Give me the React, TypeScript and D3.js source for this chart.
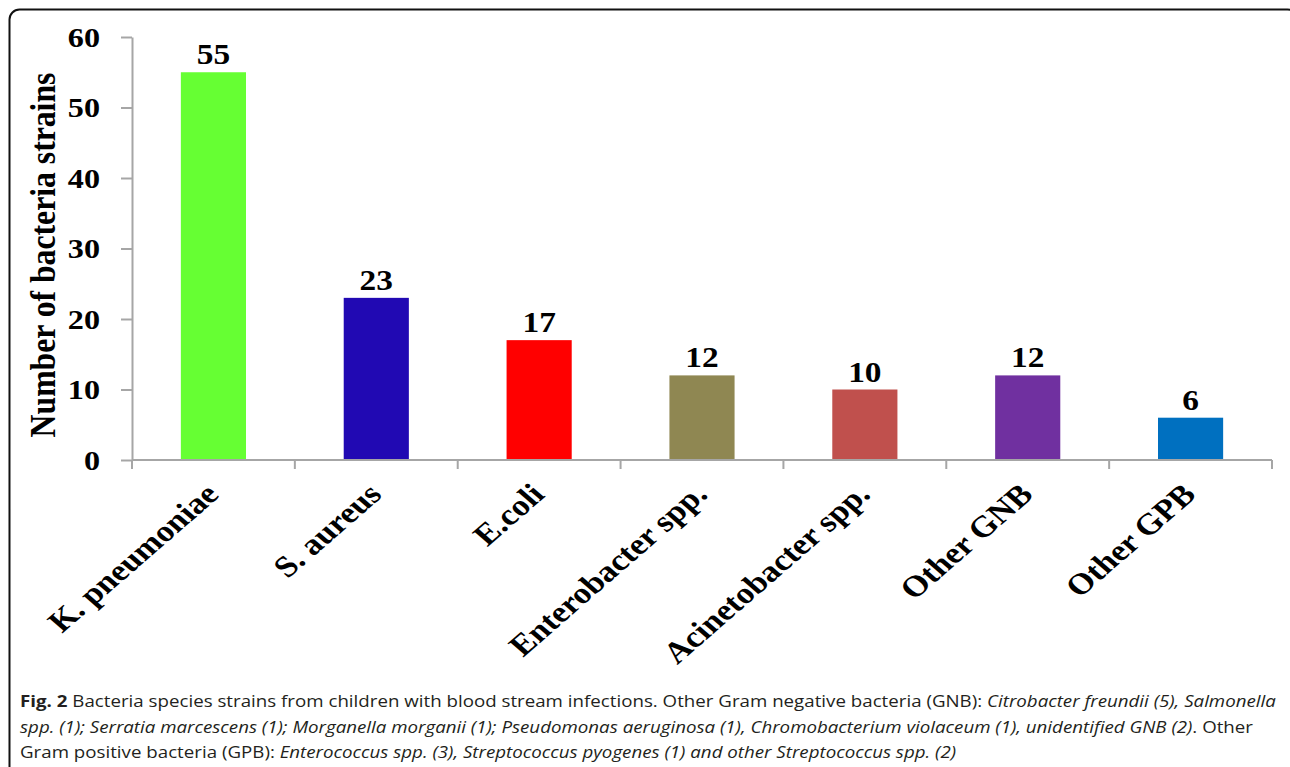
import React, { useEffect, useRef } from "react";
import * as d3 from "d3";

// data
const categories = ["K. pneumoniae", "S. aureus", "E.coli", "Enterobacter spp.", "Acinetobacter spp.", "Other GNB", "Other GPB"];
const counts = [55, 23, 17, 12, 10, 12, 6];
const barColors = ["#66ff33", "#2109b3", "#ff0000", "#8f8752", "#c0504d", "#7030a0", "#0070c0"];
const yTicks = [0, 10, 20, 30, 40, 50, 60];
const yTitle = "Number of bacteria strains";

// caption lines, as [text, style] runs
const captionLines = [
  [["Fig. 2", "bold"], [" Bacteria species strains from children with blood stream infections. Other Gram negative bacteria (GNB): ", "normal"], ["Citrobacter freundii (5), Salmonella", "italic"]],
  [["spp. (1); Serratia marcescens (1); Morganella morganii (1); Pseudomonas aeruginosa (1), Chromobacterium violaceum (1), unidentified GNB (2)", "italic"], [". Other", "normal"]],
  [["Gram positive bacteria (GPB): ", "normal"], ["Enterococcus spp. (3), Streptococcus pyogenes (1) and other Streptococcus spp. (2)", "italic"]],
];

const W = 1290;
const H = 767;
const stretch = 1.15; // the source figure is a bit wider than tall
const serif = "'Liberation Serif', 'Times New Roman', serif";

export default function App() {
  const ref = useRef<SVGSVGElement>(null);

  useEffect(() => {
    document.body.style.margin = "0";
    const svg = d3.select(ref.current);
    svg.selectAll("*").remove();

    // outer frame
    svg.append("rect")
      .attr("x", 9.5).attr("y", 9.5)
      .attr("width", 1288).attr("height", 800)
      .attr("rx", 10)
      .attr("fill", "white")
      .attr("stroke", "#111")
      .attr("stroke-width", 2);

    const x = d3.scaleBand().domain(categories).range([132, 1272]).padding(0);
    const y = d3.scaleLinear().domain([0, 60]).range([460, 37]);
    const barW = x.bandwidth() * 0.4;
    const axisColor = "#a6a6a6";

    // y axis
    const yAxis = svg.append("g").attr("transform", "translate(132,0)")
      .call(d3.axisLeft(y).tickValues(yTicks).tickSize(11).tickSizeOuter(0).tickFormat(() => ""));
    yAxis.selectAll("path, line").attr("stroke", axisColor).attr("stroke-width", 2);

    svg.selectAll(".ytick")
      .data(yTicks)
      .join("text")
      .attr("class", "ytick")
      .attr("transform", d => `translate(100,${y(d)}) scale(${stretch},1)`)
      .attr("dy", "0.35em")
      .attr("text-anchor", "end")
      .attr("font-family", serif)
      .attr("font-weight", "bold")
      .attr("font-size", 28)
      .text(d => d);

    // y title
    svg.append("text")
      .attr("transform", `translate(42,255) scale(${stretch},1) rotate(-90)`)
      .attr("dy", "0.35em")
      .attr("text-anchor", "middle")
      .attr("font-family", serif)
      .attr("font-weight", "bold")
      .attr("font-size", 31.7)
      .text(yTitle);

    // bars
    svg.selectAll(".bar")
      .data(categories)
      .join("rect")
      .attr("class", "bar")
      .attr("x", d => x(d)! + (x.bandwidth() - barW) / 2)
      .attr("y", (d, i) => y(counts[i]))
      .attr("width", barW)
      .attr("height", (d, i) => y(0) - y(counts[i]))
      .attr("fill", (d, i) => barColors[i]);

    // value labels, kept inside the plot top
    svg.selectAll(".val")
      .data(categories)
      .join("text")
      .attr("class", "val")
      .attr("transform", (d, i) => `translate(${x(d)! + x.bandwidth() / 2},${Math.max(y(counts[i]) - 8, y(60) + 13)}) scale(${stretch},1)`)
      .attr("text-anchor", "middle")
      .attr("font-family", serif)
      .attr("font-weight", "bold")
      .attr("font-size", 29)
      .text((d, i) => counts[i]);

    // x axis line and category boundary ticks
    svg.append("line")
      .attr("x1", 132).attr("x2", 1272)
      .attr("y1", y(0)).attr("y2", y(0))
      .attr("stroke", axisColor).attr("stroke-width", 2);
    const bounds = categories.map(c => x(c)!).concat([x.range()[1]]);
    svg.selectAll(".xtick")
      .data(bounds)
      .join("line")
      .attr("class", "xtick")
      .attr("x1", d => d).attr("x2", d => d)
      .attr("y1", y(0)).attr("y2", y(0) + 9)
      .attr("stroke", axisColor).attr("stroke-width", 2);

    // category labels
    svg.selectAll(".cat")
      .data(categories)
      .join("text")
      .attr("class", "cat")
      .attr("transform", d => `translate(${x(d)! + x.bandwidth() / 2 + 7},496) scale(${stretch},1) rotate(-45)`)
      .attr("text-anchor", "end")
      .attr("font-family", serif)
      .attr("font-weight", "bold")
      .attr("font-size", 30)
      .text(d => d);

    // caption
    const cap = svg.append("g").attr("font-family", "'Open Sans', sans-serif").attr("font-size", 16).attr("fill", "#231f20");
    captionLines.forEach((line, li) => {
      const t = cap.append("text").attr("transform", `translate(20,${707 + li * 25.5}) scale(1.17,1)`);
      line.forEach(([txt, style]) => {
        const s = t.append("tspan").text(txt);
        if (style === "bold") s.attr("font-weight", "bold");
        if (style === "italic") s.attr("font-style", "italic");
      });
    });
  }, []);

  return <svg ref={ref} width={W} height={H} style={{ display: "block" }} />;
}
